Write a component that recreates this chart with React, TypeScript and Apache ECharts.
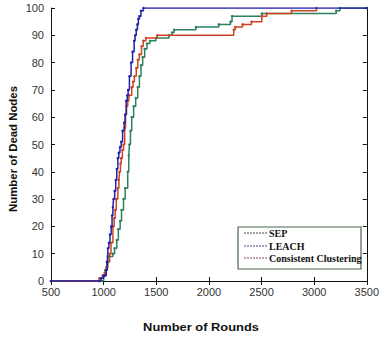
import React, { useEffect, useRef } from "react";
import * as echarts from "echarts";

const xTicks = [500, 1000, 1500, 2000, 2500, 3000, 3500];
const yTicks = [0, 10, 20, 30, 40, 50, 60, 70, 80, 90, 100];

const sepRounds = [500, 985, 1000, 1015, 1030, 1040, 1088, 1104, 1125, 1140, 1157, 1170, 1189, 1205, 1229, 1239, 1245, 1255, 1267, 1285, 1305, 1324, 1340, 1355, 1371, 1390, 1412, 1440, 1497, 1622, 1650, 1670, 1877, 2094, 2205, 2220, 2503, 3210, 3245, 3500];
const sepDead = [0, 0, 2, 4, 7, 9, 10, 12, 15, 19, 22, 26, 30, 34, 40, 46, 50, 55, 60, 64, 67, 71, 75, 79, 82, 85, 87, 88, 89, 90, 91, 92, 93, 94, 95, 97, 98, 99, 100, 100];

const leachRounds = [500, 962, 975, 1000, 1015, 1025, 1035, 1041, 1050, 1060, 1072, 1080, 1088, 1094, 1105, 1115, 1125, 1135, 1144, 1155, 1167, 1180, 1195, 1204, 1214, 1225, 1233, 1245, 1261, 1275, 1290, 1299, 1310, 1321, 1330, 1340, 1355, 1378, 3500];
const leachDead = [0, 0, 1, 2, 2, 4, 7, 12, 14, 17, 20, 24, 27, 30, 33, 37, 41, 45, 47, 49, 51, 55, 58, 61, 66, 68, 70, 75, 80, 84, 88, 90, 92, 94, 96, 97, 99, 100, 100];

const ccRounds = [500, 950, 960, 990, 1010, 1025, 1040, 1057, 1070, 1088, 1100, 1110, 1120, 1135, 1145, 1151, 1160, 1167, 1178, 1189, 1200, 1208, 1218, 1229, 1240, 1267, 1280, 1292, 1310, 1325, 1340, 1360, 1377, 1402, 1510, 2236, 2250, 2320, 2405, 2503, 2550, 2786, 3022];
const ccDead = [0, 0, 1, 2, 3, 5, 7, 10, 14, 20, 23, 26, 30, 34, 37, 40, 43, 45, 48, 50, 56, 61, 64, 66, 68, 71, 73, 75, 78, 81, 83, 86, 88, 89, 90, 92, 93, 94, 95, 97, 98, 99, 100];

const legendNames = ["SEP", "LEACH", "Consistent Clustering"];
const xTitle = "Number of Rounds";
const yTitle = "Number of Dead Nodes";

const zip = (xs: number[], ys: number[]) => xs.map((x, i) => [x, ys[i]]);

export default function App() {
  const ref = useRef<HTMLDivElement>(null);
  useEffect(() => {
    if (!ref.current) return;
    const chart = echarts.init(ref.current, null, { renderer: "svg" });
    const labelFont = "'Liberation Sans', Arial, sans-serif";
    const axisCommon = {
      type: "value" as const,
      axisLine: { show: true, lineStyle: { color: "#111", width: 1 } },
      axisTick: { show: true, inside: true, length: 4, lineStyle: { color: "#111" } },
      splitLine: { show: false },
    };
    const lineSeries = (name: string, xs: number[], ys: number[], color: string, z: number) => ({
      name,
      type: "line",
      step: "end",
      data: zip(xs, ys),
      showSymbol: true,
      symbol: "circle",
      symbolSize: 2.5,
      itemStyle: { color },
      lineStyle: { color, width: 1.5 },
      z,
    });
    const legendColors = ["#444444", "#4a4a8a", "#8a4a5a"];
    const legendYs = [233, 246, 258];
    chart.setOption({
      animation: false,
      backgroundColor: "#ffffff",
      grid: { left: 51, right: 13, top: 8, bottom: 56, containLabel: false },
      xAxis: [
        {
          ...axisCommon,
          position: "bottom",
          min: xTicks[0],
          max: xTicks[xTicks.length - 1],
          interval: 500,
          axisLabel: {
            color: "#333",
            fontSize: 11,
            fontFamily: labelFont,
            margin: 5,
            formatter: (v: number) => String(v),
          },
        },
        {
          ...axisCommon,
          position: "top",
          min: xTicks[0],
          max: xTicks[xTicks.length - 1],
          interval: 500,
          axisLabel: { show: false },
        },
      ],
      yAxis: [
        {
          ...axisCommon,
          position: "left",
          min: yTicks[0],
          max: yTicks[yTicks.length - 1],
          interval: 10,
          axisLabel: {
            color: "#333",
            fontSize: 11,
            fontFamily: labelFont,
            margin: 7,
            formatter: (v: number) => String(v),
          },
        },
        {
          ...axisCommon,
          position: "right",
          min: yTicks[0],
          max: yTicks[yTicks.length - 1],
          interval: 10,
          axisLabel: { show: false },
        },
      ],
      series: [
        lineSeries(legendNames[0], sepRounds, sepDead, "#2f8060", 2),
        lineSeries(legendNames[2], ccRounds, ccDead, "#cc4422", 3),
        lineSeries(legendNames[1], leachRounds, leachDead, "#2222a8", 4),
      ],
      graphic: [
        {
          type: "text",
          x: 201,
          y: 327,
          scaleX: 1.17,
          style: {
            text: xTitle,
            font: `bold 11px ${labelFont}`,
            fill: "#111",
            align: "center",
            verticalAlign: "middle",
          },
        },
        {
          type: "text",
          x: 13,
          y: 149,
          rotation: Math.PI / 2,
          style: {
            text: yTitle,
            font: `bold 11.4px ${labelFont}`,
            fill: "#111",
            align: "center",
            verticalAlign: "middle",
          },
        },
        {
          type: "group",
          z: 100,
          children: [
            {
              type: "rect",
              shape: { x: 238, y: 227, width: 123, height: 42 },
              style: { fill: "#ffffff", stroke: "#4a6a4a", lineWidth: 1.2 },
            },
            ...legendNames.map((n, i) => ({
              type: "line",
              shape: { x1: 244, y1: legendYs[i], x2: 267, y2: legendYs[i] },
              style: { stroke: legendColors[i], lineWidth: 1, lineDash: [2, 1] },
            })),
            ...legendNames.map((n, i) => ({
              type: "text",
              x: 269,
              y: legendYs[i],
              style: {
                text: n,
                font: "bold 10px 'Liberation Serif', 'Times New Roman', serif",
                fill: "#111",
                align: "left",
                verticalAlign: "middle",
              },
            })),
          ],
        },
      ],
    });
    return () => chart.dispose();
  }, []);
  return <div ref={ref} style={{ width: 382, height: 337, position: "absolute", left: 0, top: 0 }} />;
}
